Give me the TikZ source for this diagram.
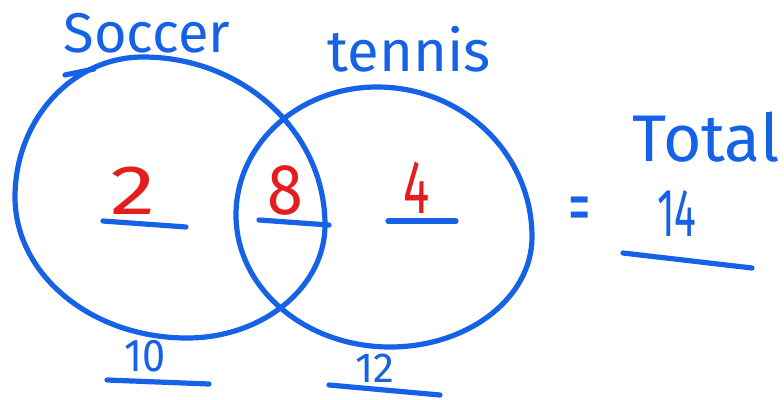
\documentclass[tikz,border=0pt]{standalone}
\usepackage{fontspec}
\setmainfont{Fira Sans}
\definecolor{pen}{RGB}{22,98,230}
\definecolor{redpen}{RGB}{228,30,30}
\newcommand{\fs}[1]{\fontsize{#1}{#1}\selectfont}
\begin{document}
\begin{tikzpicture}[x=1pt,y=-1pt,
  stroke/.style={draw=pen,line width=5.2pt,line cap=round,line join=round},
  bluetext/.style={text=pen,inner sep=0pt},
  redtext/.style={text=redpen,inner sep=0pt}]
\useasboundingbox (0,0) rectangle (784,399);
\fill[white] (0,0) rectangle (784,399);
% soccer circle
\coordinate (sl) at (15,197); \coordinate (st) at (143,57);
\coordinate (sr) at (325,225); \coordinate (sb) at (187,338);
\draw[stroke] (sl) .. controls (15,120) and (72,57) .. (st)
  .. controls (243,57) and (325,132) .. (sr)
  .. controls (325,287) and (263,338) .. (sb)
  .. controls (92,338) and (15,275) .. (sl) -- cycle;
% tennis circle
\coordinate (tl) at (236,215); \coordinate (tt) at (377,87);
\coordinate (tr) at (532,237); \coordinate (tb) at (390,347);
\draw[stroke] (tl) .. controls (236,144) and (299,87) .. (tt)
  .. controls (463,87) and (532,154) .. (tr)
  .. controls (532,298) and (468,347) .. (tb)
  .. controls (305,347) and (236,288) .. (tl) -- cycle;
\coordinate (dasha) at (65,75); \coordinate (dashb) at (94,69);
\draw[stroke] (dasha) -- (dashb);
% headings
\node[bluetext,font=\fs{56}] (soccer) at (147,33) {Soccer};
\node[bluetext,font=\fs{58}] (tennis) at (409,49) {tennis};
\node[bluetext,font=\fs{66}] (total) at (706,137) {Total};
% region counts
\node[redtext,font=\fs{70},xscale=1.3] (two) at (133,191) {2};
\node[redtext,font=\fs{72},xscale=0.9] (eight) at (285,190) {8};
\node[redtext,font=\fs{76},xscale=0.65] (four) at (417,188) {4};
\coordinate (u2a) at (103,221); \coordinate (u2b) at (186,227);
\coordinate (u8a) at (259,220); \coordinate (u8b) at (329,225);
\coordinate (u4a) at (388,221); \coordinate (u4b) at (456,221);
\draw[stroke] (u2a) -- (u2b);
\draw[stroke] (u8a) -- (u8b);
\draw[stroke] (u4a) -- (u4b);
% total
\node[bluetext,font=\fs{56},xscale=0.8,yscale=1.4] (eq) at (580,215) {=};
\node[bluetext,font=\fs{68},xscale=0.6] (fourteen) at (677,213) {14};
\coordinate (uta) at (623,253); \coordinate (utb) at (752,268);
\draw[stroke] (uta) -- (utb);
% circle totals
\node[bluetext,font=\fs{46},xscale=0.9] (ten) at (145,356) {10};
\coordinate (u10a) at (107,380); \coordinate (u10b) at (209,384);
\draw[stroke] (u10a) -- (u10b);
\node[bluetext,font=\fs{42}] (twelve) at (375,368) {12};
\coordinate (u12a) at (329,385); \coordinate (u12b) at (440,395);
\draw[stroke] (u12a) -- (u12b);
\end{tikzpicture}
\end{document}
